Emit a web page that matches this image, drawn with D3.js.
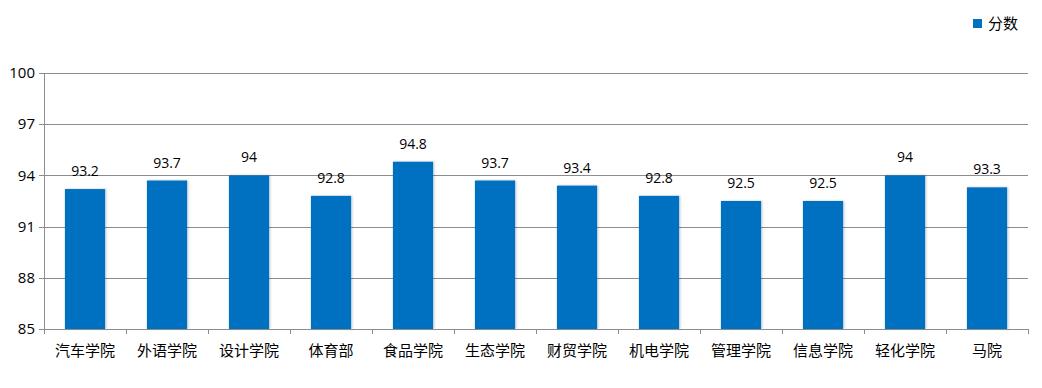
<!DOCTYPE html>
<html lang="zh">
<head>
  <meta charset="UTF-8"/>
  <title>分数</title>
  <script src="https://d3js.org/d3.v7.min.js"></script>
  <style>
    body { margin: 0; background: #fff; }
    text { font-family: "Open Sans", "Noto Sans CJK SC", sans-serif; }
  </style>
</head>
<body>
<script>
  var categories = ["汽车学院", "外语学院", "设计学院", "体育部", "食品学院", "生态学院",
                    "财贸学院", "机电学院", "管理学院", "信息学院", "轻化学院", "马院"];
  var scores = [93.2, 93.7, 94, 92.8, 94.8, 93.7, 93.4, 92.8, 92.5, 92.5, 94, 93.3];
  var yTicks = [85, 88, 91, 94, 97, 100];
  var seriesName = "分数";

  var w = 1042, h = 388;
  var plotL = 44, plotR = 1028, plotT = 73, plotB = 329;

  var svg = d3.select("body").append("svg")
              .attr("width", w)
              .attr("height", h);

  var defs = svg.append("defs");
  var f = defs.append("filter").attr("id", "shadow")
              .attr("x", "-20%").attr("y", "-5%").attr("width", "140%").attr("height", "110%");
  f.append("feDropShadow").attr("dx", 1).attr("dy", 0).attr("stdDeviation", 1.2)
   .attr("flood-color", "#000").attr("flood-opacity", 0.25);

  var x = d3.scaleBand()
            .domain(categories)
            .range([plotL, plotR])
            .paddingInner(0.51)
            .paddingOuter(0.255);

  var xb = d3.scaleBand().domain(categories).range([plotL, plotR]);

  var y = d3.scaleLinear()
            .domain([85, 100])
            .range([plotB, plotT]);

  // gridlines
  svg.selectAll("line.grid")
     .data(yTicks.slice(1))
     .enter()
     .append("line")
     .attr("x1", plotL).attr("x2", plotR)
     .attr("y1", function(d) { return Math.round(y(d)) + 0.5; })
     .attr("y2", function(d) { return Math.round(y(d)) + 0.5; })
     .attr("stroke", "#8c8c8c")
     .attr("stroke-width", 1);

  // y labels + small ticks
  svg.selectAll("text.ylab")
     .data(yTicks)
     .enter()
     .append("text")
     .attr("x", 35)
     .attr("y", function(d) { return y(d); })
     .attr("dy", "0.35em")
     .attr("text-anchor", "end")
     .style("font-size", "15px")
     .attr("fill", "#000")
     .text(function(d) { return d; });

  svg.selectAll("line.ytick")
     .data(yTicks)
     .enter()
     .append("line")
     .attr("x1", plotL - 5).attr("x2", plotL)
     .attr("y1", function(d) { return Math.round(y(d)) + 0.5; })
     .attr("y2", function(d) { return Math.round(y(d)) + 0.5; })
     .attr("stroke", "#8c8c8c");

  // bars
  svg.selectAll("rect.bar")
     .data(scores)
     .enter()
     .append("rect")
     .attr("x", function(d, i) { return x(categories[i]); })
     .attr("y", function(d) { return y(d); })
     .attr("width", x.bandwidth())
     .attr("height", function(d) { return plotB - y(d); })
     .attr("fill", "#0070c0")
     .attr("filter", "url(#shadow)");

  // value labels
  svg.selectAll("text.val")
     .data(scores)
     .enter()
     .append("text")
     .attr("x", function(d, i) { return x(categories[i]) + x.bandwidth() / 2; })
     .attr("y", function(d) { return y(d) - 13; })
     .attr("text-anchor", "middle")
     .style("font-size", "14px")
     .attr("fill", "#000")
     .text(function(d) { return d; });

  // axis lines
  svg.append("line")
     .attr("x1", plotL + 0.5).attr("x2", plotL + 0.5)
     .attr("y1", plotT).attr("y2", plotB + 5)
     .attr("stroke", "#8c8c8c");
  svg.append("line")
     .attr("x1", plotL).attr("x2", plotR + 0.5)
     .attr("y1", plotB + 0.5).attr("y2", plotB + 0.5)
     .attr("stroke", "#8c8c8c");

  // x ticks at band boundaries
  svg.selectAll("line.xtick")
     .data(categories)
     .enter()
     .append("line")
     .attr("x1", function(d) { return Math.round(xb(d) + xb.bandwidth()) + 0.5; })
     .attr("x2", function(d) { return Math.round(xb(d) + xb.bandwidth()) + 0.5; })
     .attr("y1", plotB).attr("y2", plotB + 5)
     .attr("stroke", "#8c8c8c");

  // x labels
  svg.selectAll("text.xlab")
     .data(categories)
     .enter()
     .append("text")
     .attr("x", function(d) { return xb(d) + xb.bandwidth() / 2; })
     .attr("y", 356)
     .attr("text-anchor", "middle")
     .style("font-size", "15px")
     .style("font-family", "'Noto Sans CJK SC', sans-serif")
     .attr("fill", "#000")
     .text(function(d) { return d; });

  // legend
  svg.append("rect")
     .attr("x", 973).attr("y", 19)
     .attr("width", 9).attr("height", 9)
     .attr("fill", "#0070c0");
  svg.append("text")
     .attr("x", 988).attr("y", 29)
     .style("font-size", "15px")
     .style("font-family", "'Noto Sans CJK SC', sans-serif")
     .attr("fill", "#000")
     .text(seriesName);
</script>
</body>
</html>
